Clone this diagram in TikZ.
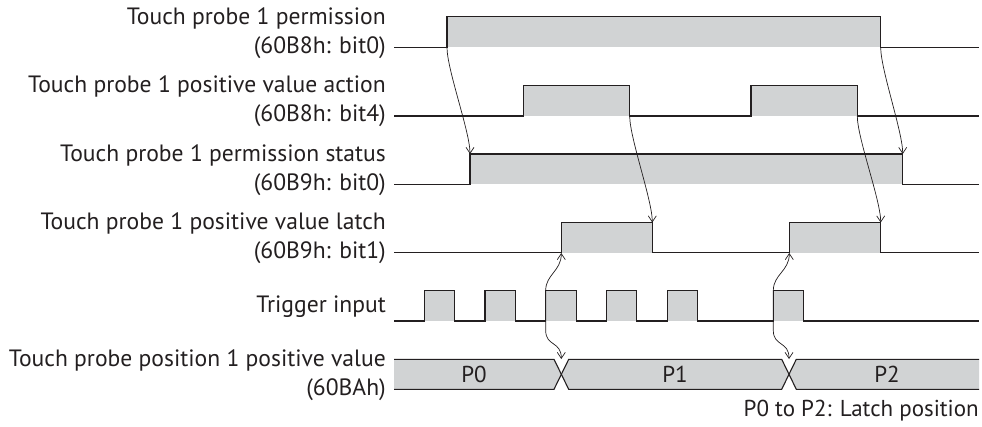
\documentclass[tikz,border=0pt]{standalone}
\usepackage{fontspec}
\setmainfont{PT Sans}
\usetikzlibrary{arrows.meta}

\definecolor{sigline}{HTML}{231F20}
\definecolor{sighigh}{HTML}{D1D3D4}

\tikzset{
    wave/.style={draw=sigline, line width=1.1pt},
    highfill/.style={fill=sighigh},
    siglabel/.style={anchor=east, align=right, inner sep=0pt, text=sigline,
        font=\fontsize{23.6}{29.5}\selectfont},
    buslabel/.style={inner sep=0pt, text=sigline, font=\fontsize{23}{25}\selectfont},
    edgearrow/.style={draw=sigline, line width=0.7pt,
        -{Straight Barb[length=6pt,width=8pt]}},
    latcharrow/.style={draw=sigline, line width=0.7pt,
        {Straight Barb[length=6pt,width=8pt]}-{Straight Barb[length=6pt,width=8pt]}},
}

\begin{document}
\begin{tikzpicture}[x=1pt,y=-1pt]
    \useasboundingbox (0,0) rectangle (982,427);

    \node[siglabel] (lblperm)  at (386,33)  {Touch probe 1 permission\\(60B8h: bit0)};
    \node[siglabel] (lblact)   at (386,101) {Touch probe 1 positive value action\\(60B8h: bit4)};
    \node[siglabel] (lblstat)  at (386,170) {Touch probe 1 permission status\\(60B9h: bit0)};
    \node[siglabel] (lbllatch) at (386,238) {Touch probe 1 positive value latch\\(60B9h: bit1)};
    \node[siglabel] (lbltrig)  at (386,307) {Trigger input};
    \node[siglabel] (lblpos)   at (386,375) {Touch probe position 1 positive value\\(60BAh)};

    % permission (60B8h: bit0)
    \fill[highfill] (447,16.5) rectangle (880.7,47.5);
    \draw[wave] (394,47.5) -- (447,47.5) -- (447,16.5) -- (880.7,16.5) -- (880.7,47.5) -- (979,47.5);
    \coordinate (permon) at (447,47.5);
    \coordinate (permoff) at (880.7,47.5);

    % positive value action (60B8h: bit4)
    \fill[highfill] (523.3,85.5) rectangle (629.7,116);
    \fill[highfill] (751,85.5) rectangle (857.3,116);
    \draw[wave] (394,116) -- (523.3,116) -- (523.3,85.5) -- (629.7,85.5) -- (629.7,116)
        -- (751,116) -- (751,85.5) -- (857.3,85.5) -- (857.3,116) -- (979,116);
    \coordinate (actoffa) at (629.7,116);
    \coordinate (actoffb) at (857.3,116);

    % permission status (60B9h: bit0)
    \fill[highfill] (470,154) rectangle (902.7,184.5);
    \draw[wave] (394,184.5) -- (470,184.5) -- (470,154) -- (902.7,154) -- (902.7,184.5) -- (979,184.5);
    \coordinate (staton) at (470,154);
    \coordinate (statoff) at (902.7,154);

    % positive value latch (60B9h: bit1)
    \fill[highfill] (561.3,222.5) rectangle (652.3,252.7);
    \fill[highfill] (789.3,222.5) rectangle (880.7,252.7);
    \draw[wave] (394,252.7) -- (561.3,252.7) -- (561.3,222.5) -- (652.3,222.5) -- (652.3,252.7)
        -- (789.3,252.7) -- (789.3,222.5) -- (880.7,222.5) -- (880.7,252.7) -- (979,252.7);
    \coordinate (latchona) at (561.3,253);
    \coordinate (latchonb) at (789.3,253);
    \coordinate (latchoffa) at (652.3,222.5);
    \coordinate (latchoffb) at (880.7,222.5);

    % trigger input
    \foreach \t in {424.3,485,545.7,606.4,667.1,773.3}
        \fill[highfill] (\t,290.5) rectangle ++(30.5,30.5);
    \draw[wave] (394,321)
        \foreach \t in {424.3,485,545.7,606.4,667.1,773.3} { -- (\t,321) -- (\t,290.5) -- ++(30.5,0) -- ++(0,30.5) }
        -- (979,321);
    \coordinate (trigc) at (545.7,290.5);
    \coordinate (trigf) at (773.3,290.5);

    % position value (60BAh)
    \fill[highfill] (394,359.3) -- (554,359.3) -- (561.3,374.3) -- (554,389.3) -- (394,389.3) -- cycle;
    \fill[highfill] (568.7,359.3) -- (781.7,359.3) -- (789,374.3) -- (781.7,389.3) -- (568.7,389.3)
        -- (561.3,374.3) -- cycle;
    \fill[highfill] (796.3,359.3) -- (979,359.3) -- (979,389.3) -- (796.3,389.3) -- (789,374.3) -- cycle;
    \draw[wave] (394,359.3) -- (554,359.3) -- (568.7,389.3) -- (781.7,389.3) -- (796.3,359.3) -- (979,359.3);
    \draw[wave] (394,389.3) -- (554,389.3) -- (568.7,359.3) -- (781.7,359.3) -- (796.3,389.3) -- (979,389.3);
    \coordinate (busa) at (561.3,359);
    \coordinate (busb) at (789,359);
    \node[buslabel] (pzero) at (474,374.3) {P0};
    \node[buslabel] (pone)  at (675,374.3) {P1};
    \node[buslabel] (ptwo)  at (887,374.3) {P2};

    \draw[edgearrow] (permon) .. controls +(0,22) and +(0,-22) .. (staton);
    \draw[edgearrow] (permoff) .. controls +(0,22) and +(0,-22) .. (statoff);
    \draw[edgearrow] (actoffa) .. controls +(0,22) and +(0,-22) .. (latchoffa);
    \draw[edgearrow] (actoffb) .. controls +(0,22) and +(0,-22) .. (latchoffb);

    \draw[latcharrow] (latchona) .. controls +(0,18) and +(0,-16) .. (trigc)
        -- ++(0,40) .. controls +(0,16) and +(0,-18) .. (busa);
    \draw[latcharrow] (latchonb) .. controls +(0,18) and +(0,-16) .. (trigf)
        -- ++(0,40) .. controls +(0,16) and +(0,-18) .. (busb);

    \node[buslabel, anchor=base east] (legend) at (979,416.5) {P0 to P2: Latch position};
\end{tikzpicture}
\end{document}
